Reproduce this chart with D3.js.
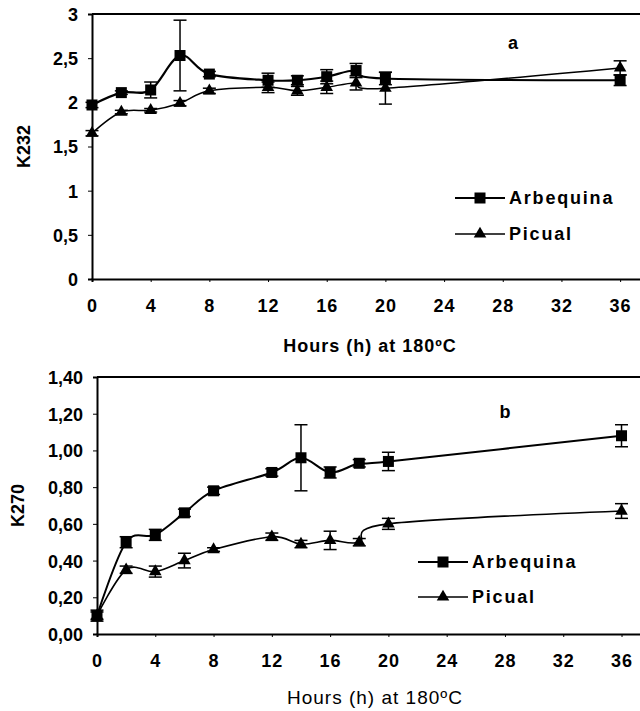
<!DOCTYPE html>
<html>
<head>
<meta charset="utf-8">
<script src="https://cdnjs.cloudflare.com/ajax/libs/d3/7.8.5/d3.min.js"></script>
<style>
  html, body { margin: 0; padding: 0; background: #ffffff; }
  svg { display: block; }
  text { font-family: "Liberation Sans", Arial, Helvetica, sans-serif; fill: #000; }
</style>
</head>
<body>
<script>
//------------------------------------------------------------------------------
// Data
//------------------------------------------------------------------------------

var hours = [0, 2, 4, 6, 8, 12, 14, 16, 18, 20, 36];
var xTicks = [0, 4, 8, 12, 16, 20, 24, 28, 32, 36];

// panel a : K232
var k232Arbequina    = [1.97, 2.11, 2.14, 2.53, 2.32, 2.25, 2.25, 2.29, 2.36, 2.27, 2.25];
var k232ArbequinaErr = [0.03, 0.02, 0.09, 0.40, 0.03, 0.08, 0.05, 0.08, 0.08, 0.07, 0.06];
var k232Picual       = [1.65, 1.89, 1.91, 1.99, 2.13, 2.17, 2.13, 2.17, 2.22, 2.16, 2.39];
var k232PicualErr    = [0.03, 0.02, 0.02, 0.03, 0.03, 0.06, 0.05, 0.07, 0.08, 0.18, 0.08];
var k232Ticks = [0, 0.5, 1, 1.5, 2, 2.5, 3];

// panel b : K270
var k270Arbequina    = [0.10, 0.50, 0.54, 0.66, 0.78, 0.88, 0.96, 0.88, 0.93, 0.94, 1.08];
var k270ArbequinaErr = [0.03, 0.03, 0.03, 0.02, 0.02, 0.02, 0.18, 0.03, 0.02, 0.05, 0.06];
var k270Picual       = [0.10, 0.35, 0.34, 0.40, 0.46, 0.53, 0.49, 0.51, 0.50, 0.60, 0.67];
var k270PicualErr    = [0.02, 0.02, 0.03, 0.04, 0.01, 0.02, 0.02, 0.05, 0.02, 0.03, 0.04];
var k270Ticks = [0, 0.2, 0.4, 0.6, 0.8, 1.0, 1.2, 1.4];

var seriesNames = ["Arbequina", "Picual"];

//------------------------------------------------------------------------------
// Setup
//------------------------------------------------------------------------------

var W = 640, H = 711;
var svg = d3.select("body").append("svg")
  .attr("width", W)
  .attr("height", H);
svg.append("rect").attr("width", W).attr("height", H).attr("fill", "#fff");

var zip = function(ys, es) {
  return hours.map(function(h, i) { return {x: h, y: ys[i], e: es[i]}; });
};

var drawMarker = function(g, kind, x, y) {
  if (kind == "square") {
    g.append("rect")
      .attr("x", x - 5.5).attr("y", y - 5.5)
      .attr("width", 11).attr("height", 11)
      .attr("fill", "#000");
  } else {
    g.append("path")
      .attr("d", d3.symbol().type(d3.symbolTriangle).size(68)())
      .attr("transform", "translate(" + x + "," + y + ")")
      .attr("fill", "#000");
  }
};

//------------------------------------------------------------------------------
// Panel
//------------------------------------------------------------------------------

var drawPanel = function(p) {
  var x = d3.scaleLinear().domain([0, 40]).range([p.left, p.left + 40 * p.pxPerHour]);
  var y = d3.scaleLinear().domain([0, p.yMax]).range([p.bottom, p.top]);
  var g = svg.append("g");

  // frame
  g.append("line")
    .attr("x1", p.left).attr("x2", x(40)).attr("y1", p.top).attr("y2", p.top)
    .attr("stroke", "#000").attr("stroke-width", 2);

  var yAxis = g.append("g")
    .attr("transform", "translate(" + p.left + ",0)")
    .call(d3.axisLeft(y).tickValues(p.yTicks).tickSize(4).tickPadding(10).tickFormat(p.fmt));
  var xAxis = g.append("g")
    .attr("transform", "translate(0," + p.bottom + ")")
    .call(d3.axisBottom(x).tickValues(xTicks).tickSize(3).tickPadding(17));
  [yAxis, xAxis].forEach(function(a) {
    a.select(".domain").attr("stroke", "#000").attr("stroke-width", 2);
    a.selectAll(".tick line").attr("stroke", "#000").attr("stroke-width", 1);
    a.selectAll("text")
      .style("font-family", "Liberation Sans, Arial, sans-serif")
      .style("font-size", "18px")
      .style("font-weight", "bold")
      .attr("fill", "#000");
  });
  yAxis.selectAll("text").attr("dy", "0.36em");
  xAxis.selectAll("text").attr("dy", "0.71em").style("letter-spacing", "1px");

  // series
  var line = d3.line()
    .x(function(d) { return x(d.x); })
    .y(function(d) { return y(d.y); })
    .curve(d3.curveCardinal.tension(0));

  p.series.forEach(function(s) {
    g.append("path")
      .attr("d", line(s.data))
      .attr("fill", "none")
      .attr("stroke", "#000")
      .attr("stroke-width", s.width);
  });

  p.series.forEach(function(s) {
    var eg = g.append("g");
    s.data.forEach(function(d) {
      var cx = x(d.x), y0 = y(d.y - d.e), y1 = y(d.y + d.e);
      eg.append("line").attr("x1", cx).attr("x2", cx).attr("y1", y0).attr("y2", y1)
        .attr("stroke", "#000").attr("stroke-width", 1.5);
      [y0, y1].forEach(function(yy) {
        eg.append("line").attr("x1", cx - 6.5).attr("x2", cx + 6.5).attr("y1", yy).attr("y2", yy)
          .attr("stroke", "#000").attr("stroke-width", 1.5);
      });
      drawMarker(eg, s.marker, cx, y(d.y));
    });
  });

  // legend
  p.series.forEach(function(s, i) {
    var ly = p.legend.y[i];
    var lg = g.append("g");
    lg.append("line")
      .attr("x1", p.legend.x).attr("x2", p.legend.x + 50).attr("y1", ly).attr("y2", ly)
      .attr("stroke", "#000").attr("stroke-width", s.width);
    drawMarker(lg, s.marker, p.legend.x + 25, ly);
    lg.append("text")
      .attr("x", p.legend.x + 54).attr("y", ly).attr("dy", "0.36em")
      .style("font-size", "18px").style("font-weight", "bold").style("letter-spacing", "1.8px")
      .text(s.name);
  });

  // panel letter
  g.append("text")
    .attr("x", p.letter.x).attr("y", p.letter.y).attr("dy", "0.36em")
    .attr("text-anchor", "middle")
    .style("font-size", "18px").style("font-weight", "bold")
    .text(p.letter.text);

  // axis titles
  g.append("text")
    .attr("transform", "translate(" + p.yTitleX + "," + ((p.top + p.bottom) / 2) + ") rotate(-90)")
    .attr("text-anchor", "middle").attr("dy", "0.36em")
    .style("font-size", "18px").style("font-weight", "bold")
    .text(p.yTitle);
  g.append("text")
    .attr("x", p.xTitle.x).attr("y", p.xTitle.y).attr("dy", "0.36em")
    .attr("text-anchor", "middle")
    .style("font-size", p.xTitle.size).style("font-weight", p.xTitle.weight)
    .style("letter-spacing", "1px")
    .text("Hours (h) at 180ºC");
};

drawPanel({
  left: 92, pxPerHour: 14.67, top: 14, bottom: 279, yMax: 3,
  yTicks: k232Ticks,
  fmt: function(d) { return String(d).replace(".", ","); },
  series: [
    {name: seriesNames[0], marker: "square", width: 2.2, data: zip(k232Arbequina, k232ArbequinaErr)},
    {name: seriesNames[1], marker: "triangle", width: 1.5, data: zip(k232Picual, k232PicualErr)}
  ],
  legend: {x: 455, y: [198, 234]},
  letter: {x: 513, y: 43, text: "a"},
  yTitle: "K232", yTitleX: 24,
  xTitle: {x: 370, y: 346, size: "18px", weight: "bold"}
});

drawPanel({
  left: 97, pxPerHour: 14.57, top: 377, bottom: 634, yMax: 1.4,
  yTicks: k270Ticks,
  fmt: function(d) { return d3.format(".2f")(d).replace(".", ","); },
  series: [
    {name: seriesNames[0], marker: "square", width: 2, data: zip(k270Arbequina, k270ArbequinaErr)},
    {name: seriesNames[1], marker: "triangle", width: 1.6, data: zip(k270Picual, k270PicualErr)}
  ],
  legend: {x: 418, y: [562, 597]},
  letter: {x: 505, y: 412, text: "b"},
  yTitle: "K270", yTitleX: 18,
  xTitle: {x: 375, y: 697, size: "19px", weight: "normal"}
});
</script>
</body>
</html>
